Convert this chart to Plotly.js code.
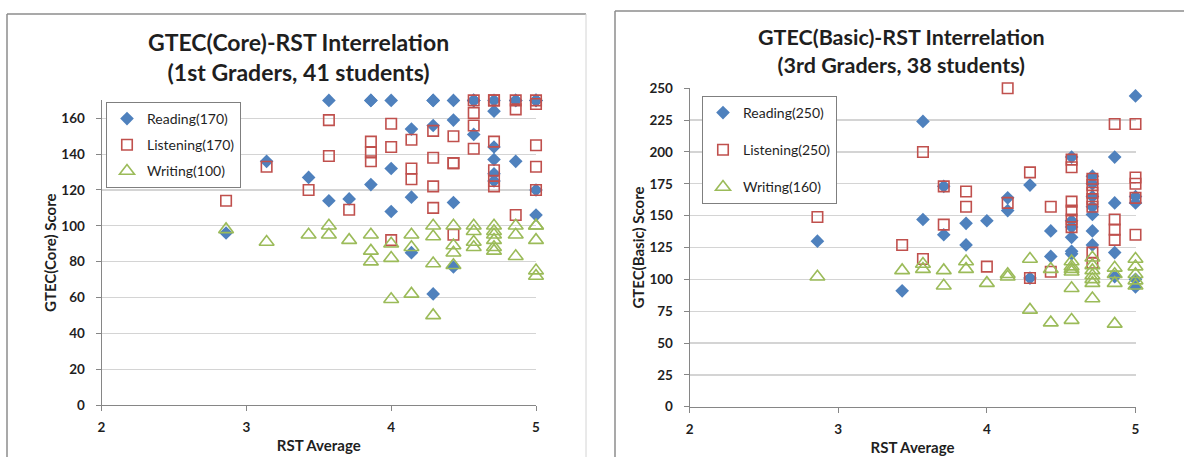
<!DOCTYPE html>
<html>
<head>
<meta charset="utf-8">
<script src="https://cdn.plot.ly/plotly-3.0.1.min.js"></script>
<style>
html,body{margin:0;padding:0;background:#fff;}
#chart{width:1184px;height:457px;}
</style>
</head>
<body>
<div id="chart"></div>
<script>
// ---------- 1st graders (GTEC Core) ----------
var coreReadingX   = [2.86,3.14,3.43,3.57,3.57,3.71,3.86,3.86,3.86,4.00,4.00,4.00,4.14,4.14,4.14,4.29,4.29,4.29,4.29,4.43,4.43,4.43,4.43,4.57,4.57,4.57,4.57,4.71,4.71,4.71,4.71,4.71,4.71,4.86,4.86,4.86,5.00,5.00,5.00,5.00,5.00];
var coreReadingY   = [96,136,127,170,114,115,170,170,123,170,132,108,154,116,85,170,170,156,62,170,159,113,77,170,170,170,151,170,164,144,137,129,125,170,170,136,170,170,170,120,106];
var coreListeningX = [2.86,3.14,3.43,3.57,3.57,3.71,3.86,3.86,3.86,4.00,4.00,4.00,4.14,4.14,4.14,4.29,4.29,4.29,4.29,4.43,4.43,4.43,4.43,4.57,4.57,4.57,4.57,4.71,4.71,4.71,4.71,4.71,4.71,4.86,4.86,4.86,5.00,5.00,5.00,5.00,5.00];
var coreListeningY = [114,133,120,159,139,109,147,141,136,157,144,92,148,132,126,153,138,122,110,150,135,135,95,170,163,156,143,170,170,147,131,125,122,170,165,106,170,168,145,133,120];
var coreWritingX   = [2.86,3.14,3.43,3.57,3.57,3.71,3.86,3.86,3.86,4.00,4.00,4.00,4.14,4.14,4.14,4.29,4.29,4.29,4.29,4.43,4.43,4.43,4.43,4.57,4.57,4.57,4.57,4.71,4.71,4.71,4.71,4.71,4.71,4.86,4.86,4.86,5.00,5.00,5.00,5.00,5.00];
var coreWritingY   = [98,91,95,100,95,92,95,86,80,90,82,59,95,88,62,100,94,79,50,100,89,85,78,100,97,91,88,100,97,95,92,88,86,100,95,83,100,100,92,75,72];

// ---------- 3rd graders (GTEC Basic) ----------
var basicReadingX   = [2.86,3.43,3.57,3.57,3.71,3.71,3.86,3.86,4.00,4.14,4.14,4.29,4.29,4.43,4.43,4.57,4.57,4.57,4.57,4.57,4.57,4.71,4.71,4.71,4.71,4.71,4.71,4.71,4.86,4.86,4.86,4.86,5.00,5.00,5.00,5.00,5.00];
var basicReadingY   = [130,91,224,147,173,135,144,127,146,164,154,174,101,138,118,196,146,141,133,122,120,181,175,165,157,151,138,127,196,160,121,102,244,165,160,100,94];
var basicListeningX = [2.86,3.43,3.57,3.57,3.71,3.71,3.86,3.86,4.00,4.14,4.14,4.29,4.29,4.43,4.43,4.57,4.57,4.57,4.57,4.57,4.57,4.71,4.71,4.71,4.71,4.71,4.71,4.71,4.86,4.86,4.86,4.86,5.00,5.00,5.00,5.00,5.00];
var basicListeningY = [149,127,200,116,173,143,169,157,110,250,160,184,101,157,106,194,188,161,154,147,141,179,174,168,163,157,121,113,222,147,139,131,222,180,175,164,135];
var basicWritingX   = [2.86,3.43,3.57,3.57,3.71,3.71,3.86,3.86,4.00,4.14,4.14,4.29,4.29,4.43,4.43,4.57,4.57,4.57,4.57,4.57,4.57,4.71,4.71,4.71,4.71,4.71,4.71,4.71,4.86,4.86,4.86,4.86,5.00,5.00,5.00,5.00,5.00];
var basicWritingY   = [102,107,112,108,107,95,114,108,97,104,102,116,76,108,66,114,110,108,106,93,68,117,111,107,103,100,97,85,109,104,97,65,116,110,104,99,95];

// ---------- labels ----------
var coreNames  = ["Reading(170)","Listening(170)","Writing(100)"];
var basicNames = ["Reading(250)","Listening(250)","Writing(160)"];
var coreTitle  = "GTEC(Core)-RST Interrelation<br>(1st Graders, 41 students)";
var basicTitle = "GTEC(Basic)-RST Interrelation<br>(3rd Graders, 38 students)";
var coreYTitle = "GTEC(Core) Score";
var basicYTitle = "GTEC(Basic) Score";
var xTitle = "RST Average";

var BLUE = "#4F81BD", RED = "#C0504D", GREEN = "#9BBB59";
var FONT = "Lato, 'Open Sans', sans-serif";
var W = 1184, H = 457;
function px(x){ return x / W; }
function py(y){ return 1 - y / H; }

function mk(x, y, name, sym, color, xa, ya, leg, grp) {
  var open = sym.indexOf("open") >= 0;
  return {
    type: "scatter", mode: "markers", x: x, y: y, name: name,
    xaxis: xa, yaxis: ya, legend: leg, legendgroup: grp,
    marker: open ? {symbol: sym, size: sym.indexOf("triangle")>=0 ? 13 : 10.5, color: color, line: {color: color, width: 1.6}}
                 : {symbol: sym, size: 10.5, color: color, line: {width: 0}},
    cliponaxis: false, hoverinfo: "skip"
  };
}

var data = [
  mk(coreReadingX, coreReadingY, coreNames[0], "diamond", BLUE, "x", "y", "legend", "c1"),
  mk(coreListeningX, coreListeningY, coreNames[1], "square-open", RED, "x", "y", "legend", "c2"),
  mk(coreWritingX, coreWritingY, coreNames[2], "triangle-up-open", GREEN, "x", "y", "legend", "c3"),
  mk(basicReadingX, basicReadingY, basicNames[0], "diamond", BLUE, "x2", "y2", "legend2", "b1"),
  mk(basicListeningX, basicListeningY, basicNames[1], "square-open", RED, "x2", "y2", "legend2", "b2"),
  mk(basicWritingX, basicWritingY, basicNames[2], "triangle-up-open", GREEN, "x2", "y2", "legend2", "b3")
];

var tickFont = {family: FONT, size: 13.5, color: "#1f1f1f", weight: "bold"};
var axTitleFont = {family: FONT, size: 15, color: "#1f1f1f", weight: "bold"};

function xAxis(domain, anchor) {
  return {
    domain: domain, anchor: anchor, range: [2, 5], dtick: 1, tick0: 2,
    showgrid: false, zeroline: false, showline: true, linecolor: "#868686", linewidth: 1,
    ticks: "outside", ticklen: 5, tickcolor: "#868686", tickfont: tickFont, ticklabelstandoff: 5,
    title: {text: xTitle, font: axTitleFont, standoff: 6}, fixedrange: true
  };
}
function yAxis(domain, anchor, max, dt, title) {
  return {
    domain: domain, anchor: anchor, range: [0, max], dtick: dt, tick0: 0,
    showgrid: true, gridcolor: "#D4D4D4", gridwidth: 1.3, zeroline: false,
    showline: true, linecolor: "#868686", linewidth: 1,
    ticks: "outside", ticklen: 5, tickcolor: "#868686", tickfont: tickFont, ticklabelstandoff: 8,
    title: {text: title, font: axTitleFont, standoff: 1}, fixedrange: true
  };
}

var frame = "#8C8C8C";
var legFont = {family: FONT, size: 14, color: "#1f1f1f"};
var layout = {
  width: W, height: H,
  margin: {l: 0, r: 0, t: 0, b: 0},
  paper_bgcolor: "#fff", plot_bgcolor: "rgba(0,0,0,0)",
  font: {family: FONT, color: "#1f1f1f"},
  showlegend: true,
  xaxis: xAxis([px(101.5), px(536)], "y"),
  yaxis: yAxis([py(405), py(100.4)], "x", 170, 20, coreYTitle),
  xaxis2: xAxis([px(689.6), px(1135.5)], "y2"),
  yaxis2: yAxis([py(406.7), py(88.3)], "x2", 250, 25, basicYTitle),
  legend: {
    x: px(106), y: py(102), xanchor: "left", yanchor: "top",
    bgcolor: "#fff", bordercolor: "#7F7F7F", borderwidth: 1,
    font: legFont, tracegroupgap: 5, itemwidth: 30, itemclick: false
  },
  legend2: {
    x: px(702), y: py(96), xanchor: "left", yanchor: "top",
    bgcolor: "#fff", bordercolor: "#7F7F7F", borderwidth: 1,
    font: legFont, tracegroupgap: 16, itemwidth: 30, itemclick: false
  },
  annotations: [
    {text: coreTitle, xref: "paper", yref: "paper", x: px(298), y: py(57), xanchor: "center", yanchor: "middle",
     showarrow: false, font: {family: FONT, size: 23, color: "#1f1f1f", weight: "bold"}},
    {text: basicTitle, xref: "paper", yref: "paper", x: px(901), y: py(51.5), xanchor: "center", yanchor: "middle",
     showarrow: false, font: {family: FONT, size: 21.5, color: "#1f1f1f", weight: "bold"}}
  ],
  shapes: [
    {type: "line", xref: "paper", yref: "paper", x0: px(7), x1: px(586), y0: py(14), y1: py(14), line: {color: frame, width: 1.5}},
    {type: "line", xref: "paper", yref: "paper", x0: px(7), x1: px(7), y0: py(14), y1: 0, line: {color: frame, width: 1.5}},
    {type: "line", xref: "paper", yref: "paper", x0: px(586), x1: px(586), y0: py(14), y1: 0, line: {color: "#D4D4D4", width: 1}},
    {type: "line", xref: "paper", yref: "paper", x0: px(615), x1: 1, y0: py(11), y1: py(11), line: {color: frame, width: 1.5}},
    {type: "line", xref: "paper", yref: "paper", x0: px(615), x1: px(615), y0: py(11), y1: 0, line: {color: frame, width: 1.5}}
  ]
};

Plotly.newPlot("chart", data, layout, {staticPlot: true, displayModeBar: false});
</script>
</body>
</html>
